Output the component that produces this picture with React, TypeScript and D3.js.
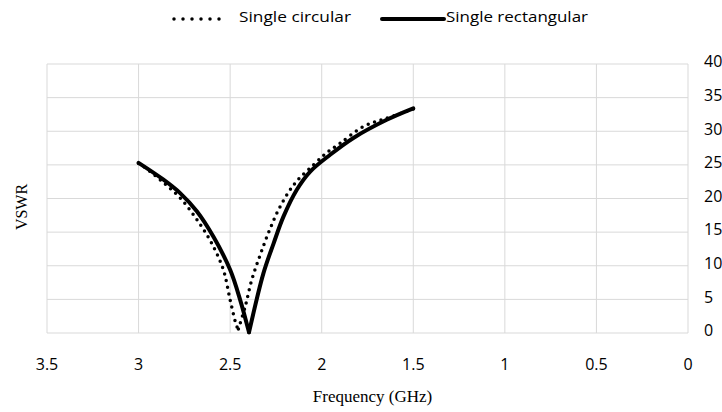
import React, { useEffect, useRef } from 'react';
import * as d3 from 'd3';

// frequency (GHz) / VSWR
const circularFreq = [3.0, 2.97, 2.87, 2.77, 2.68, 2.6, 2.537, 2.5, 2.464, 2.455, 2.418, 2.382, 2.336, 2.285, 2.227, 2.145, 2.045, 1.972, 1.9, 1.772, 1.65, 1.5];
const circularVswr = [25.2, 24.7, 22.5, 20.0, 16.8, 13.3, 9.4, 4.9, 1.0, 0.6, 3.9, 7.9, 11.6, 15.3, 18.8, 22.3, 25.0, 26.8, 28.2, 30.7, 31.9, 33.3];

const rectFreq = [3.0, 2.864, 2.773, 2.682, 2.591, 2.5, 2.445, 2.397, 2.318, 2.263, 2.209, 2.136, 2.063, 1.954, 1.827, 1.645, 1.5];
const rectVswr = [25.3, 22.8, 20.8, 18.1, 14.3, 9.4, 4.9, 0.1, 8.9, 13.3, 17.3, 21.3, 24.0, 26.5, 29.0, 31.7, 33.4];

const xTicks = [3.5, 3, 2.5, 2, 1.5, 1, 0.5, 0];
const yTicks = [0, 5, 10, 15, 20, 25, 30, 35, 40];

const W = 722;
const H = 412;
const plot = { left: 47, right: 688, top: 64, bottom: 333 };

const App = () => {
    const svgRef = useRef<SVGSVGElement>(null);

    useEffect(() => {
        const svg = d3.select(svgRef.current);
        svg.selectAll("*").remove();

        const x = d3.scaleLinear().domain([3.5, 0]).range([plot.left, plot.right]);
        const y = d3.scaleLinear().domain([0, 40]).range([plot.bottom, plot.top]);

        const labelFont = "'Open Sans', sans-serif";
        const serif = "'Liberation Serif', 'Times New Roman', serif";

        // grid
        const grid = svg.append("g");
        grid.selectAll(".vg").data(xTicks).enter().append("line")
            .attr("x1", d => x(d)).attr("x2", d => x(d))
            .attr("y1", plot.top).attr("y2", plot.bottom)
            .attr("stroke", "#d9d9d9").attr("stroke-width", 1);
        grid.selectAll(".hg").data(yTicks).enter().append("line")
            .attr("x1", plot.left).attr("x2", plot.right)
            .attr("y1", d => y(d)).attr("y2", d => y(d))
            .attr("stroke", "#d9d9d9").attr("stroke-width", 1);

        // tick labels
        svg.append("g").selectAll("text").data(xTicks).enter().append("text")
            .attr("x", d => x(d)).attr("y", 366)
            .attr("text-anchor", "middle").attr("dominant-baseline", "middle")
            .attr("font-family", labelFont).attr("font-size", 16).attr("fill", "#000")
            .text(d => String(d));
        svg.append("g").selectAll("text").data(yTicks).enter().append("text")
            .attr("x", 704).attr("y", d => y(d) - 1)
            .attr("dominant-baseline", "middle")
            .attr("font-family", labelFont).attr("font-size", 16).attr("fill", "#000")
            .text(d => String(d));

        // axis titles
        svg.append("text")
            .attr("x", (plot.left + plot.right) / 2 + 5).attr("y", 398)
            .attr("text-anchor", "middle").attr("dominant-baseline", "middle")
            .attr("font-family", serif).attr("font-size", 17).attr("fill", "#000")
            .text("Frequency (GHz)");
        svg.append("text")
            .attr("transform", "translate(23,207) rotate(-90)")
            .attr("text-anchor", "middle").attr("dominant-baseline", "middle")
            .attr("font-family", serif).attr("font-size", 16).attr("fill", "#000")
            .text("VSWR");

        const line = d3.line<[number, number]>()
            .x(d => x(d[0])).y(d => y(d[1]))
            .curve(d3.curveCatmullRom.alpha(0.5));

        // split each series at its minimum so the dip stays sharp
        const branches = (fs: number[], vs: number[]) => {
            const pts: [number, number][] = fs.map((f, i) => [f, vs[i]]);
            const mi = d3.minIndex(vs);
            return [pts.slice(0, mi + 1), pts.slice(mi)];
        };

        branches(circularFreq, circularVswr).forEach(b => {
            svg.append("path").attr("d", line(b))
                .attr("fill", "none").attr("stroke", "#000")
                .attr("stroke-width", 3.5).attr("stroke-linecap", "round")
                .attr("stroke-dasharray", "0 6.8");
        });
        branches(rectFreq, rectVswr).forEach(b => {
            svg.append("path").attr("d", line(b))
                .attr("fill", "none").attr("stroke", "#000")
                .attr("stroke-width", 4).attr("stroke-linecap", "round")
                .attr("stroke-linejoin", "round");
        });

        // legend
        const lg = svg.append("g");
        lg.append("line").attr("x1", 174).attr("x2", 228).attr("y1", 19).attr("y2", 19)
            .attr("stroke", "#000").attr("stroke-width", 3.5).attr("stroke-linecap", "round")
            .attr("stroke-dasharray", "0 9");
        lg.append("text").attr("x", 239).attr("y", 18).attr("dominant-baseline", "middle")
            .attr("font-family", labelFont).attr("font-size", 15).attr("fill", "#000")
            .attr("textLength", 112).attr("lengthAdjust", "spacingAndGlyphs")
            .text("Single circular");
        lg.append("line").attr("x1", 382).attr("x2", 444).attr("y1", 19).attr("y2", 19)
            .attr("stroke", "#000").attr("stroke-width", 4).attr("stroke-linecap", "round");
        lg.append("text").attr("x", 446).attr("y", 18).attr("dominant-baseline", "middle")
            .attr("font-family", labelFont).attr("font-size", 15).attr("fill", "#000")
            .attr("textLength", 142).attr("lengthAdjust", "spacingAndGlyphs")
            .text("Single rectangular");
    }, []);

    return (
        <svg ref={svgRef} width={W} height={H}
            style={{ position: 'absolute', left: 0, top: 0, display: 'block', background: '#fff' }} />
    );
};

export default App;
